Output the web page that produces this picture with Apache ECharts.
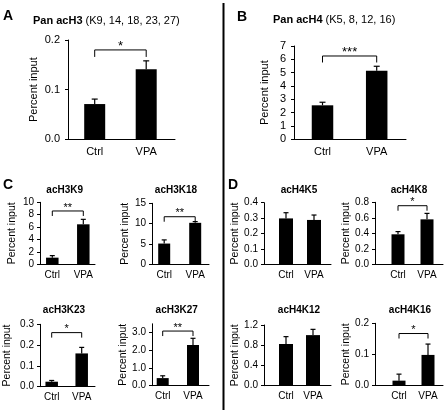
<!DOCTYPE html>
<html><head><meta charset="utf-8">
<script src="https://cdn.jsdelivr.net/npm/echarts@6/dist/echarts.min.js"></script>
<style>html,body{margin:0;padding:0;background:#fff}#c{width:448px;height:413px}</style>
</head><body><div id="c"></div>
<script>
// ---------- data ----------
const categories = ['Ctrl', 'VPA'];
const panelNames = ['Pan acH3', 'Pan acH4', 'acH3K9', 'acH3K18', 'acH3K23', 'acH3K27', 'acH4K5', 'acH4K8', 'acH4K12', 'acH4K16'];
const panelSuffixes = ['(K9, 14, 18, 23, 27)', '(K5, 8, 12, 16)'];
const panelLetters = ['A', 'B', 'C', 'D'];
const yAxisName = 'Percent input';
const ctrlMeans  = [0.071, 2.55, 1.07, 5.1, 0.024, 0.43, 0.298, 0.387, 0.824, 0.015];
const ctrlErrors = [0.010, 0.23, 0.33, 0.9, 0.006, 0.13, 0.037, 0.035, 0.146, 0.021];
const vpaMeans   = [0.141, 5.15, 6.45, 10.2, 0.160, 2.30, 0.288, 0.58, 1.0, 0.098];
const vpaErrors  = [0.017, 0.33, 0.80, 0.3, 0.029, 0.38, 0.032, 0.077, 0.114, 0.035];
const sigLabels  = ['*', '***', '**', '**', '*', '**', '', '*', '', '*'];
const sigLevels  = [0.18, 6.25, 8.6, 11.7, 0.26, 3.09, null, 0.756, null, 0.167];
const yMaxima    = [0.2, 7, 10, 15, 0.3, 3.5, 0.4, 0.8, 1.2, 0.2];
const yTickLabels = [
  ['0.0', '0.1', '0.2'],
  ['0', '1', '2', '3', '4', '5', '6', '7'],
  ['0', '2', '4', '6', '8', '10'],
  ['0', '5', '10', '15'],
  ['0.0', '0.1', '0.2', '0.3'],
  ['0.0', '1.0', '2.0', '3.0'],
  ['0.0', '0.1', '0.2', '0.3', '0.4'],
  ['0.0', '0.2', '0.4', '0.6', '0.8'],
  ['0.0', '0.4', '0.8', '1.2'],
  ['0.0', '0.1', '0.2']
];

// ---------- layout (pixels) ----------
const layout = [
  {L: 68,  R: 175, c0: 94.7,  c1: 146.2, top: 40,    bottom: 139.3, bw: 21,   fs: 11, gap: 29, lm: 8, xm: 7, tick: 7, sfs: 13},
  {L: 294, R: 406, c0: 322.5, c1: 376.7, top: 46,    bottom: 139.3, bw: 21.5, fs: 11, gap: 24, lm: 8, xm: 7, tick: 6.5, sfs: 13},
  {L: 40,  R: 95,  c0: 52.3,  c1: 83.3,  top: 202.3, bottom: 264.3, bw: 12.5, fs: 10, gap: 22, lm: 6, xm: 6, tick: 5, sfs: 11},
  {L: 152, R: 209, c0: 164.2, c1: 195.2, top: 203.3, bottom: 264.3, bw: 12,   fs: 10, gap: 17, lm: 6, xm: 6, tick: 5, sfs: 11},
  {L: 40,  R: 95,  c0: 51.7,  c1: 81.7,  top: 324.3, bottom: 386.7, bw: 12.5, fs: 10, gap: 27, lm: 6, xm: 6, tick: 5, sfs: 11},
  {L: 152, R: 209, c0: 162.7, c1: 193,   top: 323.8, bottom: 385.7, bw: 12,   fs: 10, gap: 16, lm: 6, xm: 6, tick: 5, sfs: 11},
  {L: 264, R: 331, c0: 286,   c1: 314,   top: 202.7, bottom: 264.3, bw: 14,   fs: 10, gap: 20, lm: 6, xm: 6, tick: 5, sfs: 11},
  {L: 375, R: 443, c0: 398,   c1: 427,   top: 202.3, bottom: 264.3, bw: 13,   fs: 10, gap: 20, lm: 6, xm: 6, tick: 5, sfs: 11},
  {L: 264, R: 331, c0: 286,   c1: 313,   top: 325,   bottom: 385.7, bw: 14,   fs: 10, gap: 20, lm: 6, xm: 6, tick: 5, sfs: 11},
  {L: 375, R: 443, c0: 399,   c1: 428,   top: 323.3, bottom: 385.3, bw: 13,   fs: 10, gap: 20, lm: 6, xm: 6, tick: 5, sfs: 11}
];
const titlePos = [null, null, [64.7, 190], [176, 190], [64, 310], [176.7, 310], [299, 190], [409, 190], [299, 310], [410, 310]];
const FONT = "'Liberation Sans', Arial, sans-serif";

const grid = [], xAxis = [], yAxis = [], series = [];
layout.forEach((g, i) => {
  const unit = g.c1 - g.c0;
  grid.push({left: g.L, top: g.top, width: g.R - g.L, height: g.bottom - g.top});
  xAxis.push({
    type: 'value', gridIndex: i,
    min: -(g.c0 - g.L) / unit, max: 1 + (g.R - g.c1) / unit,
    axisLine: {show: true, onZero: false, lineStyle: {color: '#000', width: 1}},
    axisTick: {show: false}, splitLine: {show: false},
    axisLabel: {customValues: [0, 1], formatter: v => categories[Math.round(v)],
      fontSize: g.fs, color: '#000', fontFamily: FONT, margin: g.xm}
  });
  const tickVals = yTickLabels[i].map(Number);
  yAxis.push({
    type: 'value', gridIndex: i, min: 0, max: yMaxima[i],
    axisLine: {show: true, onZero: false, lineStyle: {color: '#000', width: 1}},
    axisTick: {show: true, length: 3, customValues: tickVals, lineStyle: {color: '#000'}},
    splitLine: {show: false},
    axisLabel: {customValues: tickVals,
      formatter: v => { const k = tickVals.findIndex(t => Math.abs(t - v) < 1e-9); return k >= 0 ? yTickLabels[i][k] : ''; },
      fontSize: g.fs, color: '#000', fontFamily: FONT, margin: g.lm},
    name: yAxisName, nameLocation: 'middle', nameGap: g.gap,
    nameTextStyle: {fontSize: g.fs + (i < 2 ? 0 : 0.5), color: '#000', fontFamily: FONT}
  });
  series.push({
    type: 'bar', xAxisIndex: i, yAxisIndex: i, barWidth: g.bw,
    itemStyle: {color: '#000'}, silent: true, animation: false,
    data: [[0, ctrlMeans[i]], [1, vpaMeans[i]]]
  });
  const capHalf = i < 2 ? 3 : 2.5;
  series.push({
    type: 'custom', xAxisIndex: i, yAxisIndex: i, animation: false, silent: true,
    encode: {x: 0, y: 1},
    data: [[0, ctrlMeans[i], ctrlErrors[i]], [1, vpaMeans[i], vpaErrors[i]]],
    renderItem: (params, api) => {
      const x = api.value(0), m = api.value(1), e = api.value(2);
      const b = api.coord([x, m]), t = api.coord([x, m + e]);
      return {type: 'group', children: [
        {type: 'line', shape: {x1: b[0], y1: b[1], x2: t[0], y2: t[1]}, style: {stroke: '#000', lineWidth: 1.2}},
        {type: 'line', shape: {x1: t[0] - capHalf, y1: t[1], x2: t[0] + capHalf, y2: t[1]}, style: {stroke: '#000', lineWidth: 1.2}}
      ]};
    }
  });
  if (sigLevels[i] !== null) {
    series.push({
      type: 'custom', xAxisIndex: i, yAxisIndex: i, animation: false, silent: true,
      encode: {x: [0, 1], y: 2},
      data: [[0, 1, sigLevels[i], sigLabels[i]]],
      renderItem: (params, api) => {
        const p0 = api.coord([api.value(0), api.value(2)]);
        const p1 = api.coord([api.value(1), api.value(2)]);
        const label = sigLabels[i];
        return {type: 'group', children: [
          {type: 'polyline', shape: {points: [[p0[0], p0[1] + g.tick], [p0[0], p0[1]], [p1[0], p1[1]], [p1[0], p1[1] + g.tick]]},
           style: {stroke: '#000', lineWidth: 1, fill: null}},
          {type: 'text', style: {text: label, x: (p0[0] + p1[0]) / 2, y: p0[1] + g.sfs * 0.2, textAlign: 'center', textVerticalAlign: 'bottom',
            font: g.sfs + 'px ' + FONT, fill: '#000'}}
        ]};
      }
    });
  }
});

const graphic = [
  {type: 'line', shape: {x1: 223.5, y1: 3, x2: 223.5, y2: 410}, style: {stroke: '#000', lineWidth: 2}},
  {type: 'text', x: 3, y: 16, style: {text: panelLetters[0], font: 'bold 14px ' + FONT, fill: '#000', textVerticalAlign: 'middle'}},
  {type: 'text', x: 237, y: 17, style: {text: panelLetters[1], font: 'bold 14px ' + FONT, fill: '#000', textVerticalAlign: 'middle'}},
  {type: 'text', x: 3, y: 185, style: {text: panelLetters[2], font: 'bold 14px ' + FONT, fill: '#000', textVerticalAlign: 'middle'}},
  {type: 'text', x: 228, y: 185, style: {text: panelLetters[3], font: 'bold 14px ' + FONT, fill: '#000', textVerticalAlign: 'middle'}},
  {type: 'text', x: 33, y: 21, style: {text: '{b|' + panelNames[0] + '} ' + panelSuffixes[0], font: '11px ' + FONT, fill: '#000', textVerticalAlign: 'middle',
    rich: {b: {fontWeight: 'bold', fontSize: 11, fontFamily: FONT, fill: '#000'}}}},
  {type: 'text', x: 273, y: 20, style: {text: '{b|' + panelNames[1] + '} ' + panelSuffixes[1], font: '11px ' + FONT, fill: '#000', textVerticalAlign: 'middle',
    rich: {b: {fontWeight: 'bold', fontSize: 11, fontFamily: FONT, fill: '#000'}}}}
];
for (let i = 2; i < panelNames.length; i++) {
  graphic.push({type: 'text', x: titlePos[i][0], y: titlePos[i][1],
    style: {text: panelNames[i], font: 'bold 10px ' + FONT, fill: '#000', textAlign: 'center', textVerticalAlign: 'middle'}});
}

const chart = echarts.init(document.getElementById('c'), null, {renderer: 'canvas'});
chart.setOption({animation: false, backgroundColor: '#fff', textStyle: {fontFamily: FONT},
  grid, xAxis, yAxis, series, graphic});
</script>
</body></html>
